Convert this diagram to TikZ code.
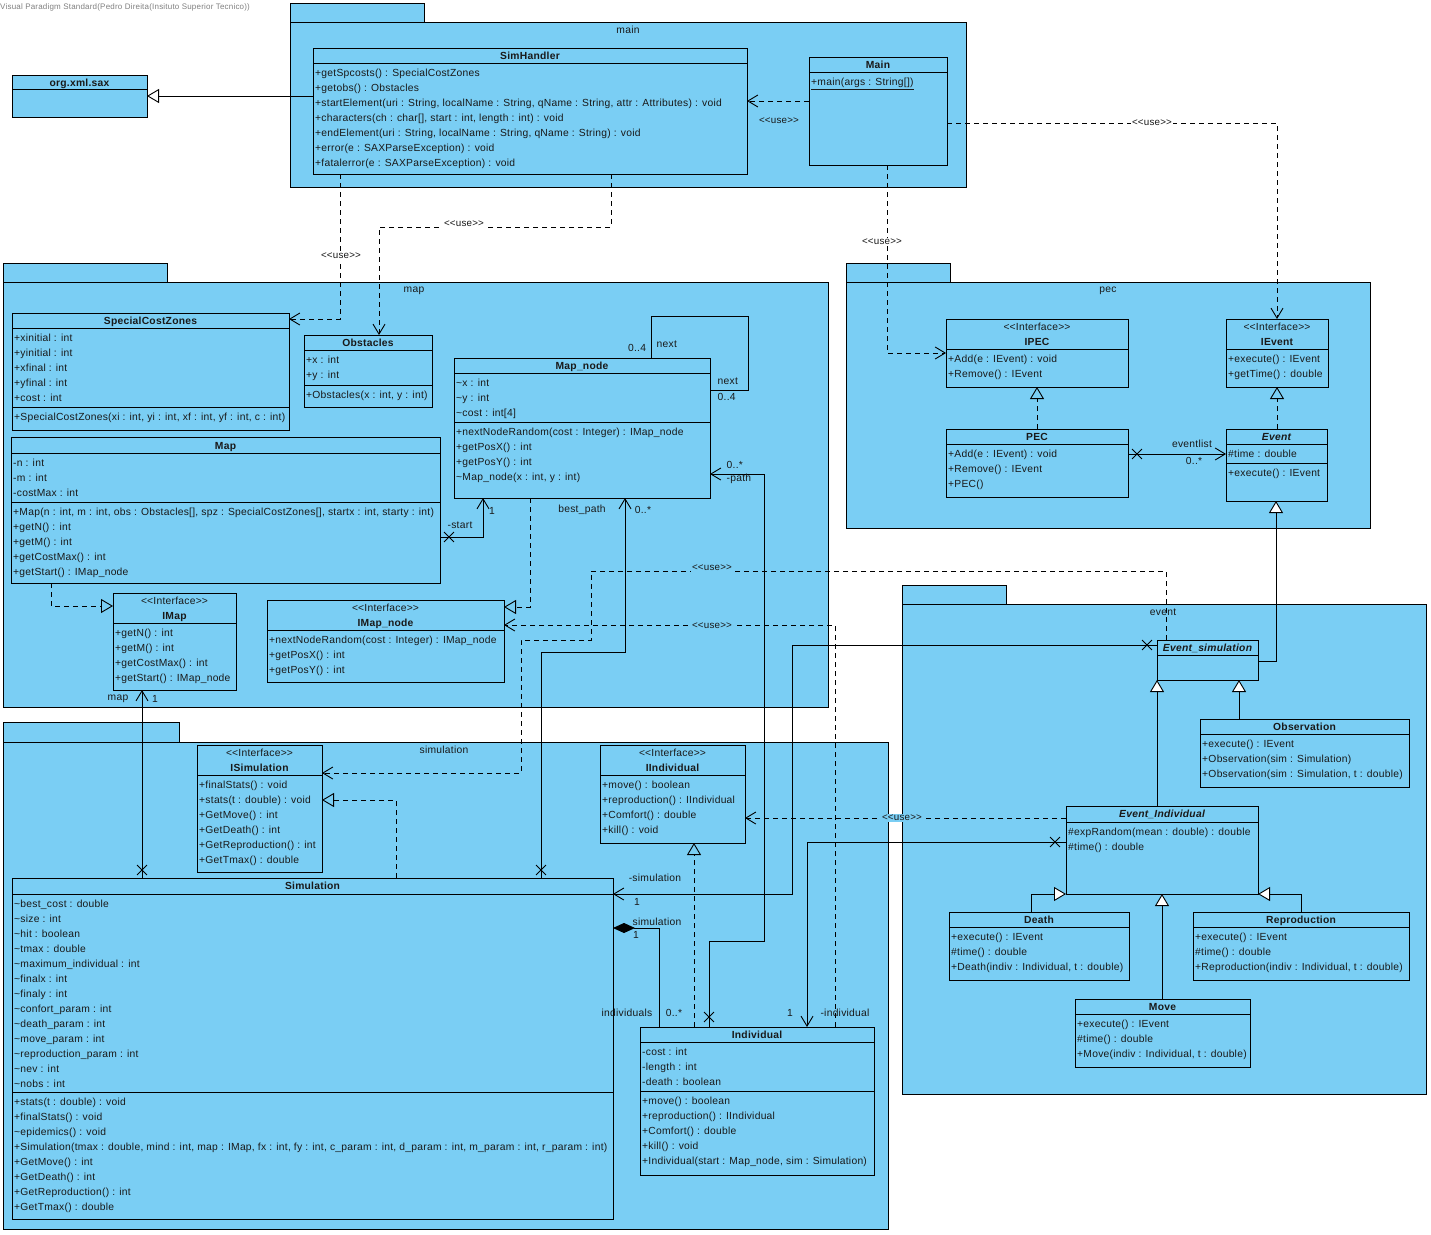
\documentclass[tikz,border=0pt]{standalone}
\usepackage{fontspec}
\setmainfont{Liberation Sans}[LetterSpace=2.5]
\usetikzlibrary{arrows.meta,shapes.misc}
\definecolor{vpblue}{RGB}{122,206,244}
\definecolor{vptext}{RGB}{25,25,25}
\newcommand\fs{\fontsize{10.3}{15}\selectfont}
\newcommand\tld{\textasciitilde}
\newcommand\dlt{<\kern0pt<}
\newcommand\dgt{>\kern0pt>}
\newcommand\iface{\dlt Interface\dgt}
\newcommand\usetxt{\dlt use\dgt}
\tikzset{
 cls/.style={draw, fill=vpblue, anchor=north west, inner sep=0pt, outer sep=0pt, line width=0.9pt},
 pkg/.style={draw, fill=vpblue, anchor=north west, inner sep=0pt, outer sep=0pt, line width=0.9pt},
 cname/.style={anchor=base, font=\fs\bfseries, inner sep=0pt},
 cnamei/.style={anchor=base, font=\fs\bfseries\itshape, inner sep=0pt},
 stereo/.style={anchor=base, font=\fs, inner sep=0pt},
 members/.style={anchor=north west, inner sep=0pt, align=left, font=\fs},
 lbl/.style={font=\fs, inner sep=0.5pt},
 plbl/.style={font=\fs, inner sep=0pt},
 uselbl/.style={font=\fontsize{9.8}{11}\selectfont, inner sep=1.5pt},
 conn/.style={line width=0.9pt},
 dashd/.style={conn, dash pattern=on 5pt off 4pt},
 dep/.style={dashd, -{Straight Barb[length=10pt,width=12pt]}},
 realz/.style={dashd, -{Triangle[open, length=12pt, width=14pt]}},
 gen/.style={conn, -{Triangle[open, length=12pt, width=14pt, fill=white]}},
 nav/.style={conn, -{Straight Barb[length=10pt,width=12pt]}},
 comp/.style={conn, -{Diamond[length=22pt,width=10pt]}},
 xmark/.style={cross out, draw, minimum size=9pt, inner sep=0pt, line width=0.9pt},
 sepline/.style={line width=0.9pt},
}
\begin{document}
\begin{tikzpicture}[x=1pt,y=-1pt, every node/.append style={text=vptext}]
\useasboundingbox (0,0) rectangle (1431,1234);
\fill[white] (0,0) rectangle (1431,1234);

\node[anchor=west, font=\fontsize{8}{9}\selectfont, text=gray, inner sep=0pt] (vpnote) at (0,7) {Visual Paradigm Standard(Pedro Direita(Insituto Superior Tecnico))};

% ---------------- packages ----------------
\node[pkg, minimum width=134pt, minimum height=19pt] (pmain-tab) at (290,3) {};
\node[pkg, minimum width=676pt, minimum height=165pt] (pmain) at (290,22) {};
\node[pkg, minimum width=164pt, minimum height=19pt] (pmap-tab) at (3,263) {};
\node[pkg, minimum width=825pt, minimum height=425pt] (pmap) at (3,282) {};
\node[pkg, minimum width=104pt, minimum height=19pt] (ppec-tab) at (846,263) {};
\node[pkg, minimum width=524pt, minimum height=246pt] (ppec) at (846,282) {};
\node[pkg, minimum width=104pt, minimum height=19pt] (pevent-tab) at (902,585) {};
\node[pkg, minimum width=524pt, minimum height=490pt] (pevent) at (902,604) {};
\node[pkg, minimum width=176pt, minimum height=20pt] (psim-tab) at (3,722) {};
\node[pkg, minimum width=885pt, minimum height=487pt] (psim) at (3,742) {};

\node[plbl] (pmain-l) at (628,30) {main};
\node[plbl] (pmap-l) at (414,291) {map};
\node[plbl] (ppec-l) at (1108,291) {pec};
\node[plbl] (psim-l) at (444,750) {simulation};

% ---------------- classes ----------------
% org.xml.sax
\node[cls, minimum width=135pt, minimum height=42pt] (sax) at (12,75) {};
\draw[sepline] (sax.west |- 0,89) -- (sax.east |- 0,89);
\node[cname] (sax-n) at (79.5,86.5) {org.xml.sax};

% SimHandler
\node[cls, minimum width=434pt, minimum height=126pt] (simhandler) at (313,48) {};
\draw[sepline] (simhandler.west |- 0,63) -- (simhandler.east |- 0,63);
\node[cname] (simhandler-n) at (530,59.5) {SimHandler};
\node[members] (simhandler-m) at (315,66) {\strut+getSpcosts() : SpecialCostZones\\+getobs() : Obstacles\\+startElement(uri : String, localName : String, qName : String, attr : Attributes) : void\\+characters(ch : char[], start : int, length : int) : void\\+endElement(uri : String, localName : String, qName : String) : void\\+error(e : SAXParseException) : void\\+fatalerror(e : SAXParseException) : void};

% Main
\node[cls, minimum width=138pt, minimum height=108pt] (mainc) at (809,57) {};
\draw[sepline] (mainc.west |- 0,72) -- (mainc.east |- 0,72);
\node[cname] (mainc-n) at (878,68.5) {Main};
\node[members] (mainc-m) at (811,75) {\strut\underline{+main(args : String[])}};

% SpecialCostZones
\node[cls, minimum width=277pt, minimum height=117pt] (scz) at (12,313) {};
\draw[sepline] (scz.west |- 0,328) -- (scz.east |- 0,328);
\draw[sepline] (scz.west |- 0,407) -- (scz.east |- 0,407);
\node[cname] (scz-n) at (150.5,324.5) {SpecialCostZones};
\node[members] (scz-a) at (14,331) {\strut+xinitial : int\\+yinitial : int\\+xfinal : int\\+yfinal : int\\+cost : int};
\node[members] (scz-m) at (14,410) {\strut+SpecialCostZones(xi : int, yi : int, xf : int, yf : int, c : int)};

% Obstacles
\node[cls, minimum width=128pt, minimum height=72pt] (obst) at (304,335) {};
\draw[sepline] (obst.west |- 0,350) -- (obst.east |- 0,350);
\draw[sepline] (obst.west |- 0,385) -- (obst.east |- 0,385);
\node[cname] (obst-n) at (368,346.5) {Obstacles};
\node[members] (obst-a) at (306,353) {\strut+x : int\\+y : int};
\node[members] (obst-m) at (306,388) {\strut+Obstacles(x : int, y : int)};

% Map
\node[cls, minimum width=429pt, minimum height=146pt] (map) at (11,437) {};
\draw[sepline] (map.west |- 0,453) -- (map.east |- 0,453);
\draw[sepline] (map.west |- 0,502) -- (map.east |- 0,502);
\node[cname] (map-n) at (225.5,449) {Map};
\node[members] (map-a) at (13,456) {\strut-n : int\\-m : int\\-costMax : int};
\node[members] (map-m) at (13,505) {\strut+Map(n : int, m : int, obs : Obstacles[], spz : SpecialCostZones[], startx : int, starty : int)\\+getN() : int\\+getM() : int\\+getCostMax() : int\\+getStart() : IMap\_node};

% Map_node
\node[cls, minimum width=256pt, minimum height=140pt] (mapnode) at (454,358) {};
\draw[sepline] (mapnode.west |- 0,373) -- (mapnode.east |- 0,373);
\draw[sepline] (mapnode.west |- 0,422) -- (mapnode.east |- 0,422);
\node[cname] (mapnode-n) at (582,369.5) {Map\_node};
\node[members] (mapnode-a) at (456,376) {\strut\tld x : int\\\tld y : int\\\tld cost : int[4]};
\node[members] (mapnode-m) at (456,425) {\strut+nextNodeRandom(cost : Integer) : IMap\_node\\+getPosX() : int\\+getPosY() : int\\\tld Map\_node(x : int, y : int)};

% IMap
\node[cls, minimum width=123pt, minimum height=97pt] (imap) at (113,593) {};
\draw[sepline] (imap.west |- 0,623) -- (imap.east |- 0,623);
\node[stereo] (imap-s) at (174.5,604.5) {\iface};
\node[cname] (imap-n) at (174.5,619.5) {IMap};
\node[members] (imap-m) at (115,626) {\strut+getN() : int\\+getM() : int\\+getCostMax() : int\\+getStart() : IMap\_node};

% IMap_node
\node[cls, minimum width=237pt, minimum height=82pt] (imapnode) at (267,600) {};
\draw[sepline] (imapnode.west |- 0,630) -- (imapnode.east |- 0,630);
\node[stereo] (imapnode-s) at (385.5,611.5) {\iface};
\node[cname] (imapnode-n) at (385.5,626.5) {IMap\_node};
\node[members] (imapnode-m) at (269,633) {\strut+nextNodeRandom(cost : Integer) : IMap\_node\\+getPosX() : int\\+getPosY() : int};

% IPEC
\node[cls, minimum width=182pt, minimum height=68pt] (ipec) at (946,319) {};
\draw[sepline] (ipec.west |- 0,349) -- (ipec.east |- 0,349);
\node[stereo] (ipec-s) at (1037,330.5) {\iface};
\node[cname] (ipec-n) at (1037,345.5) {IPEC};
\node[members] (ipec-m) at (948,352) {\strut+Add(e : IEvent) : void\\+Remove() : IEvent};

% IEvent
\node[cls, minimum width=102pt, minimum height=68pt] (ievent) at (1226,319) {};
\draw[sepline] (ievent.west |- 0,349) -- (ievent.east |- 0,349);
\node[stereo] (ievent-s) at (1277,330.5) {\iface};
\node[cname] (ievent-n) at (1277,345.5) {IEvent};
\node[members] (ievent-m) at (1228,352) {\strut+execute() : IEvent\\+getTime() : double};

% PEC
\node[cls, minimum width=182pt, minimum height=68pt] (pec) at (946,429) {};
\draw[sepline] (pec.west |- 0,444) -- (pec.east |- 0,444);
\node[cname] (pec-n) at (1037,440.5) {PEC};
\node[members] (pec-m) at (948,447) {\strut+Add(e : IEvent) : void\\+Remove() : IEvent\\+PEC()};

% Event
\node[cls, minimum width=101pt, minimum height=72pt] (event) at (1226,429) {};
\draw[sepline] (event.west |- 0,444) -- (event.east |- 0,444);
\draw[sepline] (event.west |- 0,463) -- (event.east |- 0,463);
\node[cnamei] (event-n) at (1276.5,440.5) {Event};
\node[members] (event-a) at (1228,447) {\strut\#time : double};
\node[members] (event-m) at (1228,466) {\strut+execute() : IEvent};

% Event_simulation
\node[cls, minimum width=101pt, minimum height=40pt] (evsim) at (1157,640) {};
\draw[sepline] (evsim.west |- 0,655) -- (evsim.east |- 0,655);
\node[cnamei] (evsim-n) at (1207.5,651.5) {Event\_simulation};

% Observation
\node[cls, minimum width=209pt, minimum height=68pt] (obs) at (1200,719) {};
\draw[sepline] (obs.west |- 0,734) -- (obs.east |- 0,734);
\node[cname] (obs-n) at (1304.5,730.5) {Observation};
\node[members] (obs-m) at (1202,737) {\strut+execute() : IEvent\\+Observation(sim : Simulation)\\+Observation(sim : Simulation, t : double)};

% Event_Individual
\node[cls, minimum width=192pt, minimum height=88pt] (evind) at (1066,806) {};
\draw[sepline] (evind.west |- 0,822) -- (evind.east |- 0,822);
\node[cnamei] (evind-n) at (1162,817.5) {Event\_Individual};
\node[members] (evind-m) at (1068,825) {\strut\#expRandom(mean : double) : double\\\#time() : double};

% Death
\node[cls, minimum width=180pt, minimum height=68pt] (death) at (949,912) {};
\draw[sepline] (death.west |- 0,927) -- (death.east |- 0,927);
\node[cname] (death-n) at (1039,923.5) {Death};
\node[members] (death-m) at (951,930) {\strut+execute() : IEvent\\\#time() : double\\+Death(indiv : Individual, t : double)};

% Reproduction
\node[cls, minimum width=216pt, minimum height=68pt] (repro) at (1193,912) {};
\draw[sepline] (repro.west |- 0,927) -- (repro.east |- 0,927);
\node[cname] (repro-n) at (1301,923.5) {Reproduction};
\node[members] (repro-m) at (1195,930) {\strut+execute() : IEvent\\\#time() : double\\+Reproduction(indiv : Individual, t : double)};

% Move
\node[cls, minimum width=175pt, minimum height=68pt] (move) at (1075,999) {};
\draw[sepline] (move.west |- 0,1014) -- (move.east |- 0,1014);
\node[cname] (move-n) at (1162.5,1010.5) {Move};
\node[members] (move-m) at (1077,1017) {\strut+execute() : IEvent\\\#time() : double\\+Move(indiv : Individual, t : double)};

% ISimulation
\node[cls, minimum width=125pt, minimum height=127pt] (isim) at (197,745) {};
\draw[sepline] (isim.west |- 0,775) -- (isim.east |- 0,775);
\node[stereo] (isim-s) at (259.5,756.5) {\iface};
\node[cname] (isim-n) at (259.5,771.5) {ISimulation};
\node[members] (isim-m) at (199,778) {\strut+finalStats() : void\\+stats(t : double) : void\\+GetMove() : int\\+GetDeath() : int\\+GetReproduction() : int\\+GetTmax() : double};

% IIndividual
\node[cls, minimum width=145pt, minimum height=98pt] (iind) at (600,745) {};
\draw[sepline] (iind.west |- 0,775) -- (iind.east |- 0,775);
\node[stereo] (iind-s) at (672.5,756.5) {\iface};
\node[cname] (iind-n) at (672.5,771.5) {IIndividual};
\node[members] (iind-m) at (602,778) {\strut+move() : boolean\\+reproduction() : IIndividual\\+Comfort() : double\\+kill() : void};

% Simulation
\node[cls, minimum width=601pt, minimum height=341pt] (simul) at (12,878) {};
\draw[sepline] (simul.west |- 0,894) -- (simul.east |- 0,894);
\draw[sepline] (simul.west |- 0,1092) -- (simul.east |- 0,1092);
\node[cname] (simul-n) at (312.5,889.5) {Simulation};
\node[members] (simul-a) at (14,897) {\strut\tld best\_cost : double\\\tld size : int\\\tld hit : boolean\\\tld tmax : double\\\tld maximum\_individual : int\\\tld finalx : int\\\tld finaly : int\\\tld confort\_param : int\\\tld death\_param : int\\\tld move\_param : int\\\tld reproduction\_param : int\\\tld nev : int\\\tld nobs : int};
\node[members] (simul-m) at (14,1095) {\strut+stats(t : double) : void\\+finalStats() : void\\\tld epidemics() : void\\+Simulation(tmax : double, mind : int, map : IMap, fx : int, fy : int, c\_param : int, d\_param : int, m\_param : int, r\_param : int)\\+GetMove() : int\\+GetDeath() : int\\+GetReproduction() : int\\+GetTmax() : double};

% Individual
\node[cls, minimum width=234pt, minimum height=148pt] (indiv) at (640,1027) {};
\draw[sepline] (indiv.west |- 0,1042) -- (indiv.east |- 0,1042);
\draw[sepline] (indiv.west |- 0,1091) -- (indiv.east |- 0,1091);
\node[cname] (indiv-n) at (757,1038.5) {Individual};
\node[members] (indiv-a) at (642,1045) {\strut-cost : int\\-length : int\\-death : boolean};
\node[members] (indiv-m) at (642,1094) {\strut+move() : boolean\\+reproduction() : IIndividual\\+Comfort() : double\\+kill() : void\\+Individual(start : Map\_node, sim : Simulation)};

% ---------------- connectors ----------------
\draw[gen] (simhandler.west |- 0,96) -- (sax.east |- 0,96);
\draw[dep] (mainc.west |- 0,101) -- (simhandler.east |- 0,101);
\draw[dep] (mainc.east |- 0,123) -| (ievent.north);
\draw[dep] (mainc.south -| 887,0) |- (ipec.west |- 0,353);
\draw[dep] (simhandler.south -| 340,0) |- (scz.east |- 0,319);
\draw[dep] (simhandler.south -| 611,0) -- (611,227) -| (obst.north -| 379,0);

\draw[nav] (map.east |- 0,537) -| (mapnode.south -| 483,0);
\node[xmark] (x-start) at (449,537) {};
\draw[conn] (mapnode.north -| 651,0) |- (748,316) |- (mapnode.east |- 0,390);
\draw[realz] (map.south -| 51,0) |- (imap.west |- 0,606);
\draw[realz] (mapnode.south -| 530,0) |- (imapnode.east |- 0,607);
\draw[nav] (simul.north -| 541,0) |- (625,652) -- (mapnode.south -| 625,0);
\node[xmark] (x-best) at (541,870) {};
\draw[nav] (indiv.north -| 709,0) |- (764,941) |- (mapnode.east |- 0,474);
\node[xmark] (x-path) at (709,1017) {};
\draw[nav] (evsim.west |- 0,645) -| (792,894) -- (simul.east |- 0,894);
\node[xmark] (x-evsim) at (1147,645) {};
\draw[comp] (indiv.north -| 659,0) |- (simul.east |- 0,928);
\draw[nav] (evind.west |- 0,842) -| (indiv.north -| 807,0);
\node[xmark] (x-evind) at (1055,842) {};
\draw[dep] (evind.west |- 0,818) -- (iind.east |- 0,818);
\draw[realz] (indiv.north -| 694,0) -- (iind.south -| 694,0);
\draw[dep] (indiv.north -| 835,0) |- (imapnode.east |- 0,625);
\draw[dep] (evsim.north -| 1166,0) |- (591,571) -- (591,640) -- (521,640) |- (isim.east |- 0,773);
\draw[realz] (simul.north -| 396,0) |- (isim.east |- 0,800);
\draw[nav] (simul.north -| 142,0) -- (imap.south -| 142,0);
\node[xmark] (x-map) at (142,870) {};
\draw[realz] (pec.north) -- (ipec.south);
\draw[realz] (event.north -| 1277,0) -- (ievent.south);
\draw[nav] (pec.east |- 0,454) -- (event.west |- 0,454);
\node[xmark] (x-pec) at (1137,454) {};
\draw[gen] (evsim.east |- 0,661) -| (event.south -| 1276,0);
\draw[gen] (obs.north -| 1239,0) -- (evsim.south -| 1239,0);
\draw[gen] (evind.north -| 1157,0) -- (evsim.south -| 1157,0);
\draw[gen] (death.north -| 1031,0) |- (evind.south west);
\draw[gen] (repro.north -| 1301,0) |- (evind.south east);
\draw[gen] (move.north -| 1162,0) -- (evind.south -| 1162,0);

% ---------------- labels ----------------
\node[plbl] (pevent-l) at (1163,612) {event};
\node[uselbl] (u1) at (779,121) {\usetxt};
\node[uselbl, fill=white] (u2) at (1152,123) {\usetxt};
\node[uselbl, fill=white] (u3) at (882,242) {\usetxt};
\node[uselbl, fill=white] (u4) at (341,256) {\usetxt};
\node[uselbl, fill=white] (u5) at (464,224) {\usetxt};
\node[uselbl, fill=vpblue] (u6) at (712,568) {\usetxt};
\node[uselbl, fill=vpblue] (u7) at (712,626) {\usetxt};
\node[uselbl, fill=vpblue] (u8) at (902,818) {\usetxt};

\node[lbl] (l-n1) at (637,348) {0..4};
\node[lbl, anchor=west] (l-n2) at (656,344) {next};
\node[lbl, anchor=west] (l-n3) at (717,381) {next};
\node[lbl, anchor=west] (l-n4) at (717,397) {0..4};
\node[lbl] (l-start) at (460,525) {-start};
\node[lbl] (l-start1) at (492,511) {1};
\node[lbl] (l-bp) at (582,510) {best\_path};
\node[lbl] (l-bpm) at (643,510) {0..*};
\node[lbl, anchor=west] (l-pm) at (726,465) {0..*};
\node[lbl, anchor=west] (l-path) at (726,479) {-path};
\node[lbl] (l-map) at (118,699) {map};
\node[lbl] (l-map1) at (155,699) {1};
\node[lbl] (l-sim1) at (655,878) {-simulation};
\node[lbl] (l-sim1m) at (637,902) {1};
\node[lbl] (l-sim2) at (657,922) {simulation};
\node[lbl] (l-sim2m) at (636,935) {1};
\node[lbl] (l-ind) at (627,1013) {individuals};
\node[lbl] (l-indm) at (674,1013) {0..*};
\node[lbl] (l-i1) at (790,1013) {1};
\node[lbl] (l-i2) at (845,1013) {-individual};
\node[lbl] (l-evl) at (1192,444) {eventlist};
\node[lbl] (l-evm) at (1194,461) {0..*};
\end{tikzpicture}
\end{document}
